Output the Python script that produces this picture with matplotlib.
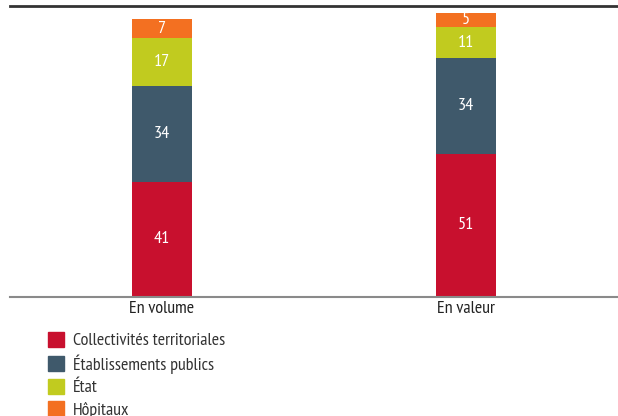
import matplotlib.pyplot as plt
from matplotlib.patches import Patch

categories = ["En volume", "En valeur"]
series = ["Collectivités territoriales", "Établissements publics", "État", "Hôpitaux"]
collectivites = [41, 51]
etablissements = [34, 34]
etat = [17, 11]
hopitaux = [7, 5]
colors = ["#C8102E", "#3F596B", "#C1CB1F", "#F37021"]

plt.rcParams['font.family'] = ['PT Sans Narrow', 'DejaVu Sans']

fig = plt.figure(figsize=(6.18, 4.16), dpi=100)
ax = fig.add_axes([0.016, 0.286, 0.984, 0.6995])

x = range(len(categories))
bottom = [0, 0]
for vals, col in zip([collectivites, etablissements, etat, hopitaux], colors):
    ax.bar(x, vals, 0.2, bottom=bottom, color=col)
    for i, v in enumerate(vals):
        ax.text(i, bottom[i] + v / 2, str(v), ha='center', va='center',
                color='white', fontsize=13)
    bottom = [b + v for b, v in zip(bottom, vals)]

ax.set_xlim(-0.5, 1.5)
ax.set_ylim(0, 103.5)
ax.set_xticks(list(x))
ax.set_xticklabels(categories, fontsize=13, color='#222222')
ax.tick_params(axis='x', length=0, pad=3)
ax.set_yticks([])
for s in ['left', 'right']:
    ax.spines[s].set_visible(False)
ax.spines['bottom'].set_color('#8a8a8a')
ax.spines['bottom'].set_linewidth(1.5)
ax.spines['top'].set_color('#333333')
ax.spines['top'].set_linewidth(2)

handles = [Patch(color=c) for c in colors]
fig.legend(handles, series, loc='upper left', bbox_to_anchor=(0.078, 0.203),
           frameon=False, fontsize=13, labelcolor='#333333',
           handlelength=0.9, handleheight=0.9,
           handletextpad=0.45, labelspacing=0.27, borderpad=0, borderaxespad=0)

fig.savefig("out.png", dpi=100)
